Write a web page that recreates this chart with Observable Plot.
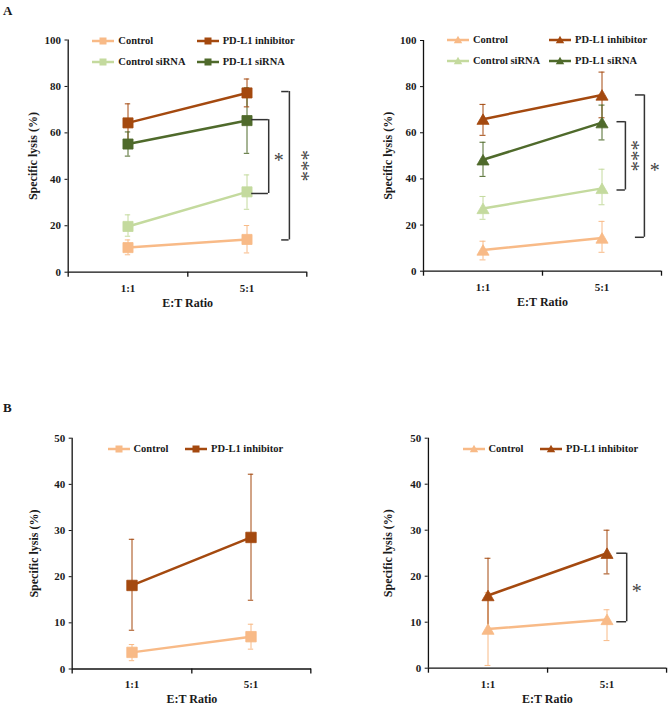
<!DOCTYPE html>
<html>
<head>
<meta charset="utf-8">
<script src="https://cdn.jsdelivr.net/npm/d3@7"></script>
<script src="https://cdn.jsdelivr.net/npm/@observablehq/plot@0.6"></script>
<style>
  body { margin: 0; background: #fff; }
  #fig { position: relative; width: 672px; height: 708px; background: #fff;
         font-family: "Liberation Serif", "Times New Roman", serif; color: #1a1a1a; }
  .panel { position: absolute; }
  .tag { position: absolute; font-size: 13px; font-weight: bold; line-height: 13px; }
  .leg { position: absolute; display: flex; align-items: center; font-size: 10.5px;
         font-weight: bold; line-height: 12px; white-space: nowrap; }
  .leg svg { display: block; margin-right: 4px; }
</style>
</head>
<body>
<div id="fig"></div>
<script>
// ---------------- data ----------------
const categories = ["1:1", "5:1"];
const seriesNames = ["Control", "PD-L1 inhibitor", "Control siRNA", "PD-L1 siRNA"];
const seriesColors = ["#F8BA87", "#A4490F", "#C4DA9E", "#4F6A2B"];
const yTicksA = [0, 20, 40, 60, 80, 100];
const yTicksB = [0, 10, 20, 30, 40, 50];

// Panel A, left (squares) — rows follow seriesNames order
const a1Mean = [[10.6, 14.1], [64.3, 77.2], [19.7, 34.6], [55.2, 65.3]];
const a1Low  = [[7.5, 8.3],   [56.1, 71.2], [15.5, 27.1], [50.0, 51.2]];
const a1High = [[13.9, 20.1], [72.5, 83.2], [24.7, 41.9], [60.4, 79.4]];
const a1BracketTop = [65.7, 77.8];
const a1BracketBottom = [33.9, 13.9];
const a1BracketLabel = ["*", "***"];

// Panel A, right (triangles)
const a2Mean = [[9.2, 14.4],  [65.9, 76.4], [27.2, 35.9], [48.3, 64.4]];
const a2Low  = [[4.9, 8.2],   [58.9, 66.5], [22.5, 28.8], [41.1, 56.9]];
const a2High = [[13.0, 21.6], [72.3, 86.3], [32.4, 44.2], [55.9, 72.0]];
const a2BracketTop = [64.8, 76.4];
const a2BracketBottom = [35.2, 14.7];
const a2BracketLabel = ["***", "*"];

// Panel B, left (squares) — Control, PD-L1 inhibitor
const b1Mean = [[3.6, 7.0], [18.1, 28.5]];
const b1Low  = [[1.8, 4.3], [8.4, 14.9]];
const b1High = [[5.3, 9.7], [28.1, 42.2]];

// Panel B, right (triangles)
const b2Mean = [[8.5, 10.6], [15.8, 25.0]];
const b2Low  = [[0.6, 6.0],  [7.7, 20.5]];
const b2High = [[16.4, 12.7], [23.9, 30.0]];
const b2BracketTop = [25.0];
const b2BracketBottom = [10.1];
const b2BracketLabel = ["*"];

// ---------------- drawing ----------------
const AX = "#111";
const TXT = "#1a1a1a";
const BR = "#333";
const colorOf = s => seriesColors[seriesNames.indexOf(s)];

function panel(o) {
  const rows = [];
  o.series.forEach((s, i) => categories.forEach((c, j) =>
    rows.push({series: s, cat: c, mean: o.mean[i][j], low: o.low[i][j], high: o.high[i][j]})));
  const bw = (o.width - o.mL - o.mR) / categories.length;
  const cap = 3;
  const yMax = o.yTicks[o.yTicks.length - 1];
  const last = categories[categories.length - 1];
  const marks = [
    Plot.ruleY([0], {stroke: AX, strokeWidth: 1.3}),
    Plot.ruleX([categories[0]], {x: d => d, y1: 0, y2: yMax, dx: -bw / 2, stroke: AX, strokeWidth: 1.3}),
    Plot.ruleX([categories[0]], {x: d => d, y1: 0, y2: 0, insetBottom: -5, dx: -bw / 2, stroke: AX, strokeWidth: 1.3}),
    Plot.ruleX(categories, {x: d => d, y1: 0, y2: 0, insetBottom: -5, dx: bw / 2, stroke: AX, strokeWidth: 1.3}),
    Plot.axisY({ticks: o.yTicks, tickSize: 3, tickPadding: 4, tickFormat: d => String(d), color: AX,
                fill: TXT, fontSize: 11, label: null}),
    Plot.axisX({tickSize: 0, tickPadding: 11.5, fill: TXT, fontSize: 11, label: null}),
    Plot.text(["E:T Ratio"], {text: d => d, frameAnchor: "bottom", dy: 30.5, lineAnchor: "middle",
                              textAnchor: "middle", fontSize: 12, fill: TXT}),
    Plot.text(["Specific lysis (%)"], {text: d => d, frameAnchor: "left", dx: o.yLabelDx, rotate: -90,
                                       lineAnchor: "middle", textAnchor: "middle", fontSize: 12, fill: TXT}),
    Plot.ruleX(rows, {x: "cat", y1: "low", y2: "high", stroke: "series", strokeWidth: 1}),
    Plot.tickY(rows, {x: "cat", y: "high", stroke: "series", strokeWidth: 1,
                      insetLeft: bw / 2 - cap, insetRight: bw / 2 - cap}),
    Plot.tickY(rows, {x: "cat", y: "low", stroke: "series", strokeWidth: 1,
                      insetLeft: bw / 2 - cap, insetRight: bw / 2 - cap}),
    Plot.line(rows, {x: "cat", y: "mean", z: "series", stroke: "series", strokeWidth: 2.5}),
    Plot.dot(rows, {x: "cat", y: "mean", fill: "series", stroke: "series", strokeWidth: 0.8,
                    symbol: o.symbol, r: o.r, dy: o.symbol === "triangle" ? 1.7 : 0})
  ];
  (o.bTop || []).forEach((top, k) => {
    const st = o.bStyle[k];
    const d = [{top, bottom: o.bBottom[k], label: o.bLabel[k]}];
    const multi = o.bLabel[k].length > 1;
    marks.push(
      Plot.ruleY(d, {y: "top", x1: () => last, x2: () => last, insetLeft: bw / 2 + st.x0,
                     insetRight: bw / 2 - st.x1, stroke: BR, strokeWidth: 1.5}),
      Plot.ruleY(d, {y: "bottom", x1: () => last, x2: () => last, insetLeft: bw / 2 + st.x0,
                     insetRight: bw / 2 - st.x1, stroke: BR, strokeWidth: 1.5}),
      Plot.ruleX(d, {x: () => last, y1: "top", y2: "bottom", dx: st.x1, stroke: BR, strokeWidth: 1.5}),
      multi
        ? Plot.text(d, {x: () => last, y: v => (v.top + v.bottom) / 2, text: "label", rotate: 90,
                        dx: st.tx - 2, fontSize: 21, lineAnchor: "middle", textAnchor: "middle",
                        fill: "#444", fontWeight: "normal"})
        : Plot.text(d, {x: () => last, y: v => (v.top + v.bottom) / 2, text: "label",
                        dx: st.tx, dy: 4, fontSize: 20, lineAnchor: "middle", textAnchor: "middle",
                        fill: "#444", fontWeight: "normal"})
    );
  });
  return Plot.plot({
    width: o.width, height: o.height,
    marginLeft: o.mL, marginRight: o.mR, marginTop: o.mT, marginBottom: o.mB,
    x: {type: "band", domain: categories, padding: 0},
    y: {domain: [0, yMax]},
    color: {domain: seriesNames, range: seriesColors},
    style: {fontFamily: '"Liberation Serif", "Times New Roman", serif', fontWeight: "bold",
            background: "transparent", overflow: "visible"},
    marks
  });
}

const fig = document.getElementById("fig");
function place(el, left, top) {
  el.classList.add("panel");
  el.style.left = left + "px";
  el.style.top = top + "px";
  fig.appendChild(el);
}

place(panel({series: seriesNames, mean: a1Mean, low: a1Low, high: a1High, symbol: "square", r: 5.7,
             yTicks: yTicksA, width: 336, height: 310, mL: 67.5, mR: 29.3, mT: 39.5, mB: 38.3, yLabelDx: -34.5,
             bTop: a1BracketTop, bBottom: a1BracketBottom, bLabel: a1BracketLabel,
             bStyle: [{x0: 4.4, x1: 21.7, tx: 31.7}, {x0: 34.4, x1: 42.4, tx: 56.7}]}), 0, 0);

place(panel({series: seriesNames, mean: a2Mean, low: a2Low, high: a2High, symbol: "triangle", r: 4.5,
             yTicks: yTicksA, width: 336, height: 310, mL: 87, mR: 11, mT: 40, mB: 39.3, yLabelDx: -35.3,
             bTop: a2BracketTop, bBottom: a2BracketBottom, bLabel: a2BracketLabel,
             bStyle: [{x0: 15, x1: 23.4, tx: 31.7}, {x0: 33.4, x1: 42.4, tx: 52.7}]}), 336, 0);

place(panel({series: seriesNames.slice(0, 2), mean: b1Mean, low: b1Low, high: b1High, symbol: "square", r: 5.9,
             yTicks: yTicksB, width: 336, height: 328, mL: 71.7, mR: 25, mT: 57.7, mB: 39.5, yLabelDx: -38.4}), 0, 380);

place(panel({series: seriesNames.slice(0, 2), mean: b2Mean, low: b2Low, high: b2High, symbol: "triangle", r: 4.5,
             yTicks: yTicksB, width: 336, height: 328, mL: 91.7, mR: 6, mT: 57.7, mB: 40.3, yLabelDx: -40,
             bTop: b2BracketTop, bBottom: b2BracketBottom, bLabel: b2BracketLabel,
             bStyle: [{x0: 9.7, x1: 19.7, tx: 29.7}]}), 336, 380);

// panel tags
[["A", 3, 3.7], ["B", 3, 400.5]].forEach(([t, x, y]) => {
  const d = document.createElement("div");
  d.className = "tag"; d.textContent = t; d.style.left = x + "px"; d.style.top = y + "px";
  fig.appendChild(d);
});

// legends
function legendItem(series, symbol, left, cy) {
  const c = colorOf(series);
  const div = document.createElement("div");
  div.className = "leg";
  div.style.left = left + "px";
  div.style.top = (cy - 6) + "px";
  const mk = symbol === "square"
    ? `<rect x="7.5" y="2.5" width="7" height="7" fill="${c}"/>`
    : `<polygon points="11,1.8 15.2,9.2 6.8,9.2" fill="${c}"/>`;
  div.innerHTML = `<svg width="22" height="12"><line x1="0" x2="22" y1="6" y2="6" stroke="${c}" stroke-width="2.5"/>${mk}</svg><span>${series}</span>`;
  fig.appendChild(div);
}
[["Control", 92.3, 40.5], ["PD-L1 inhibitor", 196.7, 40.5], ["Control siRNA", 92.3, 62], ["PD-L1 siRNA", 196.7, 62]]
  .forEach(([s, x, y]) => legendItem(s, "square", x, y));
[["Control", 447, 40], ["PD-L1 inhibitor", 549, 40], ["Control siRNA", 447, 61], ["PD-L1 siRNA", 549, 61]]
  .forEach(([s, x, y]) => legendItem(s, "triangle", x, y));
[["Control", 107.5, 449], ["PD-L1 inhibitor", 185, 449]].forEach(([s, x, y]) => legendItem(s, "square", x, y));
[["Control", 462.5, 449], ["PD-L1 inhibitor", 540, 449]].forEach(([s, x, y]) => legendItem(s, "triangle", x, y));
</script>
</body>
</html>
